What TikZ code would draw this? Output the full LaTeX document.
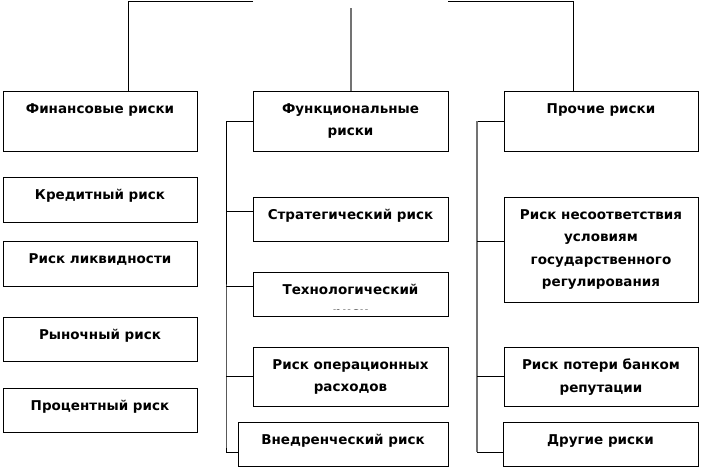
\documentclass[tikz,border=0pt]{standalone}
\usepackage{fontspec}
\setmainfont{DejaVu Sans}
\usepackage{tikz}
\tikzset{
	boxstyle/.style={rectangle,draw=black,fill=white,line width=0.9pt,inner sep=0pt},
	textstyle/.style={anchor=north,align=center,inner sep=0pt,yshift=-12.5pt,
		font=\fontsize{13.5}{22.5}\selectfont\bfseries},
	linkstyle/.style={draw=black,line width=0.9pt},
	greystyle/.style={draw=black!55,line width=1.1pt}
}

\begin{document}
\begin{tikzpicture}[x=1pt,y=-1pt]
		\useasboundingbox (0,0) rectangle (716,469);
		% top level
		\node[boxstyle,minimum width=194,minimum height=60] (fin) at (100,121) {};
		\node[boxstyle,minimum width=195,minimum height=60] (func) at (350.5,121) {};
		\node[boxstyle,minimum width=194,minimum height=60] (oth) at (601,121) {};
		\node[textstyle] (fint) at (fin.north) {Финансовые риски};
		\node[textstyle] (funct) at (func.north) {Функциональные\\риски};
		\node[textstyle] (otht) at (oth.north) {Прочие риски};
		% financial risks
		\node[boxstyle,minimum width=194,minimum height=45] (f1) at (100,199.5) {};
		\node[boxstyle,minimum width=194,minimum height=45] (f2) at (100,263.5) {};
		\node[boxstyle,minimum width=194,minimum height=44] (f3) at (100,339) {};
		\node[boxstyle,minimum width=194,minimum height=44] (f4) at (100,410) {};
		\node[textstyle] (f1t) at (f1.north) {Кредитный риск};
		\node[textstyle] (f2t) at (f2.north) {Риск ликвидности};
		\node[textstyle] (f3t) at (f3.north) {Рыночный риск};
		\node[textstyle] (f4t) at (f4.north) {Процентный риск};
		% functional risks
		\node[boxstyle,minimum width=195,minimum height=44] (m1) at (350.5,219) {};
		\node[boxstyle,minimum width=195,minimum height=44] (m2) at (350.5,294) {};
		\node[boxstyle,minimum width=195,minimum height=59] (m3) at (350.5,376.5) {};
		\node[boxstyle,minimum width=210,minimum height=44] (m4) at (343,444) {};
		\node[textstyle] (m1t) at (m1.north) {Стратегический риск};
		\begin{scope}
			\clip (m2.north west) rectangle ([yshift=7pt]m2.south east);
			\node[textstyle] (m2t) at (m2.north) {Технологический\\риск};
		\end{scope}
		\node[textstyle] (m3t) at (m3.north) {Риск операционных\\расходов};
		\node[textstyle] (m4t) at (m4.north) {Внедренческий риск};
		% other risks
		\node[boxstyle,minimum width=194,minimum height=105] (o1) at (601,249.5) {};
		\node[boxstyle,minimum width=194,minimum height=59] (o2) at (601,376.5) {};
		\node[boxstyle,minimum width=195,minimum height=44] (o3) at (600.5,444) {};
		\node[textstyle] (o1t) at (o1.north) {Риск несоответствия\\условиям\\государственного\\регулирования};
		\node[textstyle] (o2t) at (o2.north) {Риск потери банком\\репутации};
		\node[textstyle] (o3t) at (o3.north) {Другие риски};
		% links from the top
		\coordinate (rootl) at (253,1.5);
		\coordinate (rootr) at (448,1.5);
		\coordinate (rootb) at (351,8);
		\draw[linkstyle] (rootl) -| (fin.north -| 128,0);
		\draw[linkstyle] (rootr) -| (oth.north -| 573,0);
		\draw[greystyle] (rootb) -- (rootb |- func.north);
		% functional trunk
		\coordinate (mtop) at (226,0);
		\draw[linkstyle] (func.west) -| (mtop |- m4.west) -- ([yshift=-8pt]m4.west -| mtop) -- ([yshift=-8pt]m4.west);
		\draw[linkstyle] ([yshift=8pt]m1.west) -- ([yshift=8pt]m1.west -| mtop);
		\draw[linkstyle] ([yshift=8pt]m2.west) -- ([yshift=8pt]m2.west -| mtop);
		\draw[linkstyle] (m3.west) -- (m3.west -| mtop);
		% other trunk
		\coordinate (otop) at (477,0);
		\draw[linkstyle] (oth.west) -- (oth.west -| otop);
		\draw[greystyle] (oth.west -| otop) -- ([yshift=-8pt]o3.west -| otop);
		\draw[linkstyle] ([yshift=-8pt]o3.west -| otop) -- ([yshift=-8pt]o3.west);
		\draw[linkstyle] ([yshift=8.5pt]o1.west) -- ([yshift=8.5pt]o1.west -| otop);
		\draw[linkstyle] (o2.west) -- (o2.west -| otop);
\end{tikzpicture}
\end{document}
